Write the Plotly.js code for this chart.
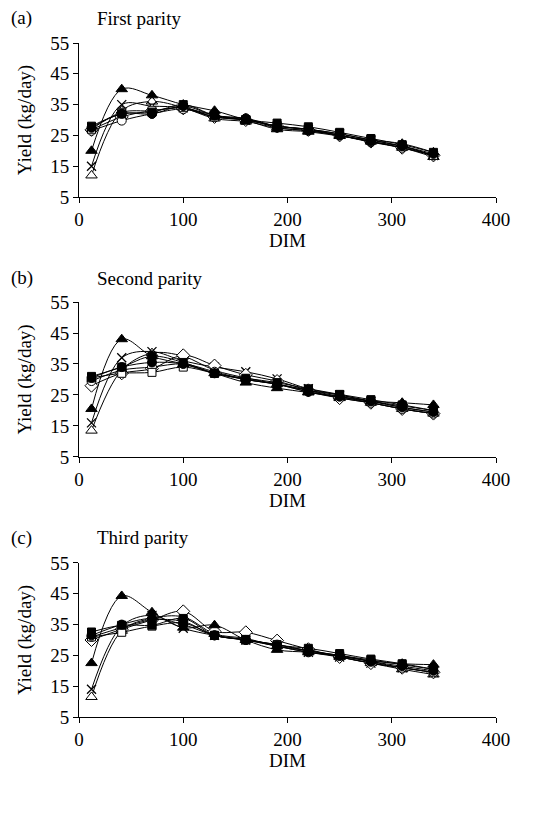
<!DOCTYPE html>
<html>
<head>
<meta charset="utf-8">
<script src="https://cdn.plot.ly/plotly-3.0.1.min.js"></script>
<style>html,body{margin:0;padding:0;background:#fff;}#chart{width:551px;height:813px;}</style>
</head>
<body>
<div id="chart"></div>
<script>
// DIM (days in milk) sampling points
const dim = [12, 41, 70, 100, 130, 160, 190, 220, 250, 280, 310, 340];

// Series labels (marker styles)
const seriesNames = ["filled triangle", "open triangle", "cross", "open diamond", "open circle", "filled circle", "open square", "filled square"];

// (a) First parity
const a_triF = [20, 40, 38, 35, 33, 30, 27, 26.2, 24.8, 23.5, 22.3, 19.5];
const a_triO = [12, 33, 36, 34, 30.5, 29.5, 27.5, 26.5, 25, 23, 21, 18];
const a_x    = [15, 35, 34.5, 34, 31.5, 30, 28, 27, 25.5, 23.5, 21.5, 18.5];
const a_dia  = [26.8, 31, 33, 33.8, 31, 30, 28, 26.8, 25, 23, 21, 18.5];
const a_cirO = [26.5, 29.8, 32, 33.5, 31, 30.5, 28, 27, 25, 22.8, 21, 18.5];
const a_cirF = [27.5, 32, 32, 34.5, 31.5, 30.5, 27.5, 26.5, 25, 23, 21.5, 19];
const a_sqO  = [27, 32.5, 33, 34, 31, 30, 28, 27, 25.5, 23.5, 21.5, 18.5];
const a_sqF  = [28, 32, 32.5, 35, 31.5, 30, 29, 27.8, 26, 24, 22, 19.5];

// (b) Second parity
const b_triF = [20.5, 43, 37.5, 35, 32, 29, 27.2, 25.8, 24.3, 23, 22.5, 21.8];
const b_triO = [13.5, 33, 38.5, 37.5, 33, 30.5, 28.5, 26, 24, 22.5, 20.5, 19];
const b_x    = [16, 37, 39, 36, 34, 32.5, 30.2, 27, 25, 23, 21, 19.5];
const b_dia  = [28, 32, 33.5, 37.8, 34.5, 31.5, 29.5, 26.5, 24, 22.5, 20.5, 19];
const b_cirO = [29.5, 33, 34, 35, 32.5, 30, 28.5, 26.5, 24.5, 22.5, 20.5, 19];
const b_cirF = [30.5, 34, 35.5, 35, 32, 30, 28.5, 26, 24.5, 23, 21, 19.5];
const b_sqO  = [30.5, 32, 32.3, 34, 32, 30, 28.5, 26.5, 25, 23, 21.5, 20];
const b_sqF  = [31, 34, 37.5, 35.5, 32, 30.4, 29, 27, 25.2, 23.5, 21.8, 20];

// (c) Third parity
const c_triF = [22.5, 44.3, 39, 34, 34.8, 30, 26.8, 26, 24.8, 23.2, 22.3, 22];
const c_triO = [11.5, 33, 37, 37.5, 32, 30.5, 28, 26.5, 24.5, 22.5, 20.5, 18.8];
const c_x    = [14, 34.5, 38, 33.8, 31.5, 30, 28, 26, 24.5, 22.5, 21, 19.5];
const c_dia  = [30, 33.5, 36.5, 39.3, 32.8, 32.5, 29.8, 27, 24.5, 22.5, 21, 19.5];
const c_cirO = [31, 34, 36.5, 36, 31.5, 30, 28.5, 26.5, 25, 23, 21, 19.5];
const c_cirF = [31.5, 35, 37, 35, 31.5, 30, 28, 26, 24.8, 23, 21.5, 20];
const c_sqO  = [31, 32.5, 34.5, 35.5, 31.5, 30, 28.5, 26.5, 25, 23.5, 22, 20.5];
const c_sqF  = [32.6, 34.8, 34.8, 37, 31.5, 30.2, 28.3, 27.3, 25.6, 23.8, 22.3, 20.5];

const panelTitles = ["First parity", "Second parity", "Third parity"];
const panelLetters = ["(a)", "(b)", "(c)"];

const styles = [
  {symbol: "triangle-up", color: "#000", size: 10},
  {symbol: "triangle-up", color: "#fff", size: 10},
  {symbol: "x-thin-open", color: "#000", size: 9},
  {symbol: "diamond", color: "#fff", size: 10},
  {symbol: "circle", color: "#fff", size: 9},
  {symbol: "circle", color: "#000", size: 9},
  {symbol: "square", color: "#fff", size: 8},
  {symbol: "square", color: "#000", size: 8}
];

const panels = [
  [a_triF, a_triO, a_x, a_dia, a_cirO, a_cirF, a_sqO, a_sqF],
  [b_triF, b_triO, b_x, b_dia, b_cirO, b_cirF, b_sqO, b_sqF],
  [c_triF, c_triO, c_x, c_dia, c_cirO, c_cirF, c_sqO, c_sqF]
];

const drawOrder = [1, 2, 3, 4, 6, 0, 5, 7];
const traces = [];
panels.forEach((series, p) => {
  const sfx = p === 0 ? "" : String(p + 1);
  drawOrder.forEach(i => {
    const st = styles[i];
    traces.push({
      type: "scatter", mode: "lines+markers",
      x: dim, y: series[i], name: seriesNames[i],
      xaxis: "x" + sfx, yaxis: "y" + sfx,
      line: {color: "#000", width: 1, shape: "spline", smoothing: 1},
      marker: {symbol: st.symbol, size: st.size, color: st.color,
               line: {color: "#000", width: st.symbol === "x-thin-open" ? 1.3 : 1}},
      showlegend: false, hoverinfo: "skip"
    });
  });
});

const font = {family: "Liberation Serif, Times New Roman, serif", size: 19, color: "#000"};
const domains = [[0.7715, 1], [0.3858, 0.6157], [0, 0.2285]];

function xax(anchor) {
  return {anchor: anchor, range: [0, 400], dtick: 100, tick0: 0, showgrid: false, zeroline: false,
    showline: true, linecolor: "#000", linewidth: 1, ticks: "outside", ticklen: 5, tickcolor: "#000",
    tickfont: font, title: {text: "DIM", font: font, standoff: 4}};
}
function yax(anchor, dom) {
  return {anchor: anchor, domain: dom, range: [5, 55], dtick: 10, tick0: 5, showgrid: false, zeroline: false,
    showline: true, linecolor: "#000", linewidth: 1, ticks: "outside", ticklen: 5, tickcolor: "#000",
    tickfont: font, title: {text: "Yield (kg/day)", font: font, standoff: 13}};
}

const layout = {
  width: 551, height: 813,
  margin: {l: 79, r: 55, t: 43, b: 96},
  paper_bgcolor: "#fff", plot_bgcolor: "#fff",
  font: font, showlegend: false,
  xaxis: xax("y"), yaxis: yax("x", domains[0]),
  xaxis2: xax("y2"), yaxis2: yax("x2", domains[1]),
  xaxis3: xax("y3"), yaxis3: yax("x3", domains[2]),
  annotations: []
};

const letterY = [1.037, 0.651, 0.2656];
panels.forEach((_, p) => {
  layout.annotations.push({xref: "paper", yref: "paper", x: -0.168, y: letterY[p], xanchor: "left", yanchor: "middle",
    text: panelLetters[p], showarrow: false, font: font});
  layout.annotations.push({xref: "paper", yref: "paper", x: 0.038, y: letterY[p], xanchor: "left", yanchor: "middle",
    text: panelTitles[p], showarrow: false, font: font});
});

Plotly.newPlot("chart", traces, layout, {staticPlot: true, displayModeBar: false});
</script>
</body>
</html>
